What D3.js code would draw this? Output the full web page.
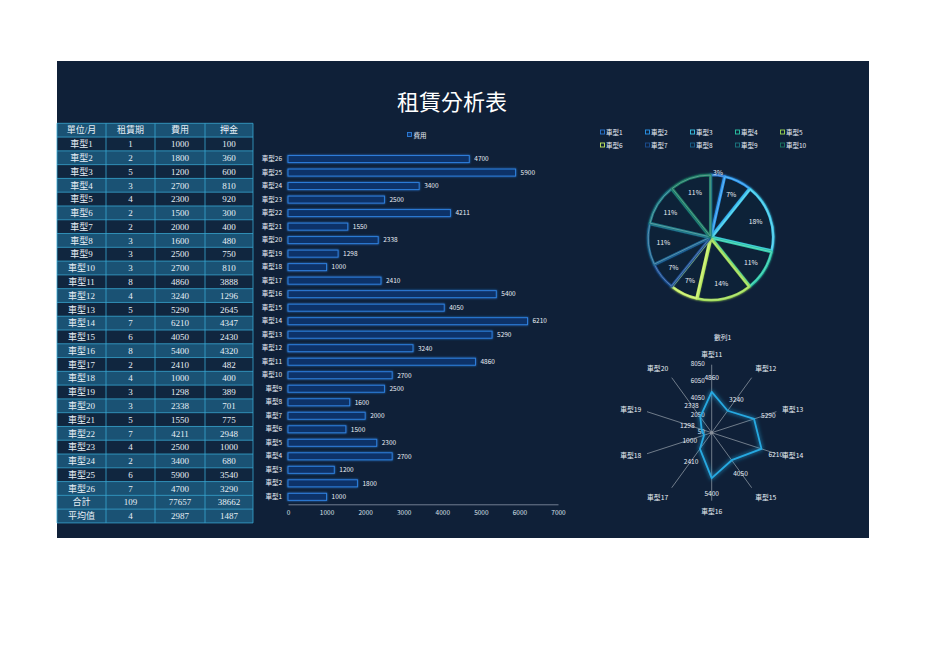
<!DOCTYPE html>
<html><head><meta charset="utf-8">
<script src="https://cdn.jsdelivr.net/npm/d3@7"></script>
<style>
html,body{margin:0;padding:0;background:#fff;}
svg{display:block;}
</style></head>
<body>
<svg id="c" width="936" height="662"></svg>
<script>
// ---------- data ----------
const headers = ['單位/月','租賃期','費用','押金'];
const models = ['車型1','車型2','車型3','車型4','車型5','車型6','車型7','車型8','車型9','車型10','車型11','車型12','車型13','車型14','車型15','車型16','車型17','車型18','車型19','車型20','車型21','車型22','車型23','車型24','車型25','車型26'];
const periods = [1,2,5,3,4,2,2,3,3,3,8,4,5,7,6,8,2,4,3,3,5,7,4,2,6,7];
const fees = [1000,1800,1200,2700,2300,1500,2000,1600,2500,2700,4860,3240,5290,6210,4050,5400,2410,1000,1298,2338,1550,4211,2500,3400,5900,4700];
const deposits = [100,360,600,810,920,300,400,480,750,810,3888,1296,2645,4347,2430,4320,482,400,389,701,775,2948,1000,680,3540,3290];
const summaryLabels = ['合計','平均值'];
const totals = [109,77657,38662];
const averages = [4,2987,1487];
const barTicks = [0,1000,2000,3000,4000,5000,6000,7000];
const pieModels = models.slice(0,10);
const piePeriods = periods.slice(0,10);
const pieColors = ['#2a78d6','#2b98ee','#3cc8ea','#2cc9a8','#9fdc55','#c4ee62','#1c4f92','#1a648e','#1b7882','#1b7a64'];
const radarModels = models.slice(10,20);
const radarValues = fees.slice(10,20);
const radarTicks = [50,2050,4050,6050,8050];

const svg = d3.select('#c');
const defs = svg.append('defs');
function glow(id, sd){
  const f = defs.append('filter').attr('id',id).attr('x','-50%').attr('y','-50%').attr('width','200%').attr('height','200%');
  f.append('feGaussianBlur').attr('in','SourceGraphic').attr('stdDeviation',sd).attr('result','b');
  const m = f.append('feMerge');
  m.append('feMergeNode').attr('in','b');
  m.append('feMergeNode').attr('in','SourceGraphic');
}
glow('g1',1.2); glow('g2',2);

const BG = '#0f2038';
svg.append('rect').attr('x',57).attr('y',61).attr('width',812).attr('height',477).attr('fill',BG);

const sansCJK = '"Noto Sans CJK TC","Noto Sans CJK SC",sans-serif';
const serifMix = '"Liberation Serif","DejaVu Serif","Noto Sans CJK TC",serif';

// title
svg.append('text').attr('x',452).attr('y',110).attr('text-anchor','middle')
  .attr('fill','#ffffff').attr('font-family',sansCJK).attr('font-size',22).attr('font-weight',400)
  .text('租賃分析表');

// ---------- table ----------
const colX = [57,106,155,205,253];
const rowTop = 123.3, rowH = 13.78;
const rows = [headers].concat(models.map((m,i)=>[m,periods[i],fees[i],deposits[i]]))
  .concat([[summaryLabels[0]].concat(totals),[summaryLabels[1]].concat(averages)]);
const tg = svg.append('g');
rows.forEach((r,ri)=>{
  const y = rowTop + ri*rowH;
  const light = (ri%2===0) || ri>=27;
  tg.append('rect').attr('x',colX[0]).attr('y',y).attr('width',colX[4]-colX[0]).attr('height',rowH)
    .attr('fill', light ? '#1a5274' : '#10263f');
  r.forEach((v,ci)=>{
    tg.append('text').attr('x',(colX[ci]+colX[ci+1])/2).attr('y',y+rowH/2+3.2)
      .attr('text-anchor','middle').attr('fill','#e6eef5')
      .attr('font-family',serifMix).attr('font-size',9).text(v);
  });
});
const tb = tg.append('g').attr('stroke','#39a7d2').attr('stroke-width',0.8).attr('fill','none');
for(let i=0;i<=rows.length;i++){
  tb.append('line').attr('x1',colX[0]).attr('x2',colX[4]).attr('y1',rowTop+i*rowH).attr('y2',rowTop+i*rowH);
}
colX.forEach(x=>tb.append('line').attr('x1',x).attr('x2',x).attr('y1',rowTop).attr('y2',rowTop+rows.length*rowH));

// ---------- bar chart ----------
const bx = d3.scaleLinear().domain([0,7000]).range([288,558]);
const by = d3.scaleBand().domain(models.slice().reverse()).range([152.3,503.6]).paddingInner(0.48).paddingOuter(0.24);
const bg = svg.append('g');
bg.selectAll('rect.bar').data(models).join('rect').attr('class','bar')
  .attr('x',bx(0)).attr('y',d=>by(d)).attr('height',by.bandwidth())
  .attr('width',(d,i)=>bx(fees[i])-bx(0))
  .attr('fill','#0e3268').attr('stroke','#2e7fdc').attr('stroke-width',1).attr('filter','url(#g1)');
bg.selectAll('text.val').data(models).join('text').attr('class','val')
  .attr('x',(d,i)=>bx(fees[i])+5).attr('y',d=>by(d)+by.bandwidth()/2+2.3)
  .attr('fill','#e8eef5').attr('font-family',sansCJK).attr('font-size',6.5)
  .text((d,i)=>fees[i]);
const yAxis = bg.append('g').attr('transform',`translate(${bx(0)},0)`)
  .call(d3.axisLeft(by).tickSize(0).tickPadding(6));
yAxis.select('.domain').remove();
yAxis.selectAll('text').attr('fill','#e8eef5').attr('font-family',sansCJK).attr('font-size',6.5);
const xAxis = bg.append('g').attr('transform','translate(0,504.3)')
  .call(d3.axisBottom(bx).tickValues(barTicks).tickSize(0).tickPadding(6).tickFormat(d3.format('d')));
xAxis.select('.domain').attr('stroke','#8a96a8').attr('stroke-width',0.8);
xAxis.selectAll('text').attr('fill','#d8e0ea').attr('font-family',sansCJK).attr('font-size',6.5);
// legend
bg.append('rect').attr('x',407.5).attr('y',132.5).attr('width',4).attr('height',4)
  .attr('fill','#0e3268').attr('stroke','#2e7fdc').attr('stroke-width',0.9);
bg.append('text').attr('x',413.5).attr('y',137.5).attr('fill','#e8eef5')
  .attr('font-family',sansCJK).attr('font-size',6.5).text('費用');

// ---------- pie ----------
const pcx = 710.7, pcy = 237.5, pr = 61;
const pie = d3.pie().sort(null).value(d=>d);
const arcs = pie(piePeriods);
const totalP = d3.sum(piePeriods);
// largest remainder rounding of percentages
const raw = piePeriods.map(v=>v/totalP*100);
const fl = raw.map(Math.floor);
let rem = 100 - d3.sum(fl);
const order = raw.map((v,i)=>[v-Math.floor(v),i]).sort((a,b)=>b[0]-a[0]);
const pct = fl.slice();
for(let k=0;k<rem;k++) pct[order[k][1]]++;
const arc = d3.arc().innerRadius(0).outerRadius(pr);
const pg = svg.append('g').attr('transform',`translate(${pcx},${pcy})`);
arcs.forEach((a,i)=>{
  const mid = (a.startAngle+a.endAngle)/2;
  const off = 1.5;
  const g = pg.append('g').attr('transform',`translate(${Math.sin(mid)*off},${-Math.cos(mid)*off})`);
  g.append('path').attr('d',arc(a)).attr('fill',BG).attr('stroke',pieColors[i]).attr('stroke-width',2.6)
    .attr('stroke-linejoin','round').attr('filter','url(#g1)');
  g.append('path').attr('d',arc(a)).attr('fill','none').attr('stroke',d3.interpolateRgb(pieColors[i],'#ffffff')(0.45))
    .attr('stroke-width',0.6).attr('stroke-linejoin','round');
});
const labelArc = d3.arc().innerRadius(pr*0.78).outerRadius(pr*0.78);
arcs.forEach((a,i)=>{
  let c = labelArc.centroid(a);
  if(i===0){ c = [Math.sin((a.startAngle+a.endAngle)/2)*(pr+4), -Math.cos((a.startAngle+a.endAngle)/2)*(pr+4)]; }
  pg.append('text').attr('x',c[0]).attr('y',c[1]+2.4).attr('text-anchor','middle')
    .attr('fill','#e8eef5').attr('font-family',sansCJK).attr('font-size',6.8).text(pct[i]+'%');
});
// pie legend
const lg = svg.append('g');
pieModels.forEach((m,i)=>{
  const col = i%5, row = Math.floor(i/5);
  const x = 600.5 + col*45, y = 130 + row*13;
  lg.append('rect').attr('x',x).attr('y',y).attr('width',4).attr('height',4)
    .attr('fill',BG).attr('stroke',pieColors[i]).attr('stroke-width',0.9);
  lg.append('text').attr('x',x+5.5).attr('y',y+4.8).attr('fill','#e8eef5')
    .attr('font-family',sansCJK).attr('font-size',6.5).text(m);
});

// ---------- radar ----------
const rcx = 711.7, rcy = 432.7, rR = 68;
const rr = d3.scaleLinear().domain([radarTicks[0],radarTicks[radarTicks.length-1]]).range([0,rR]);
const ang = d3.scaleLinear().domain([0,radarModels.length]).range([0,2*Math.PI]);
const rg = svg.append('g').attr('transform',`translate(${rcx},${rcy})`);
radarModels.forEach((m,i)=>{
  const a = ang(i);
  rg.append('line').attr('x1',0).attr('y1',0).attr('x2',Math.sin(a)*rR).attr('y2',-Math.cos(a)*rR)
    .attr('stroke','#9aa3ae').attr('stroke-width',0.7);
});
radarModels.forEach((m,i)=>{
  const a = ang(i), s = Math.sin(a), c = -Math.cos(a);
  const lr = rR + 6;
  let anchor = 'middle';
  if(s > 0.2) anchor='start'; else if(s < -0.2) anchor='end';
  let dy = 2.4;
  if(c < -0.8) dy = -2; else if(c > 0.8) dy = 7.5;
  rg.append('text').attr('x',s*lr).attr('y',c*lr+dy).attr('text-anchor',anchor)
    .attr('fill','#e8eef5').attr('font-family',sansCJK).attr('font-size',6.8).text(m);
});
radarTicks.forEach(t=>{
  rg.append('text').attr('x',-7).attr('y',-rr(t)+1.2).attr('text-anchor','end')
    .attr('fill','#e8eef5').attr('font-family',sansCJK).attr('font-size',6.3).text(t);
});
rg.append('circle').attr('r',1.8).attr('fill','#8a929c');
const line = d3.lineRadial().angle((d,i)=>ang(i)).radius(d=>rr(d)).curve(d3.curveLinearClosed);
rg.append('path').attr('d',line(radarValues)).attr('fill','none').attr('stroke','#27a9e1')
  .attr('stroke-width',1.8).attr('stroke-linejoin','round').attr('filter','url(#g2)');
radarValues.forEach((v,i)=>{
  const a = ang(i), r = rr(v)+15;
  rg.append('text').attr('x',Math.sin(a)*r).attr('y',-Math.cos(a)*r+3.2).attr('text-anchor','middle')
    .attr('fill','#e8eef5').attr('font-family',sansCJK).attr('font-size',6.6).text(v);
});
// radar legend
svg.append('line').attr('x1',693).attr('x2',712).attr('y1',337).attr('y2',337)
  .attr('stroke','#27a9e1').attr('stroke-width',2).attr('filter','url(#g1)');
svg.append('text').attr('x',714).attr('y',339.5).attr('fill','#e8eef5')
  .attr('font-family',sansCJK).attr('font-size',6.8).text('數列1');
</script>
</body></html>
